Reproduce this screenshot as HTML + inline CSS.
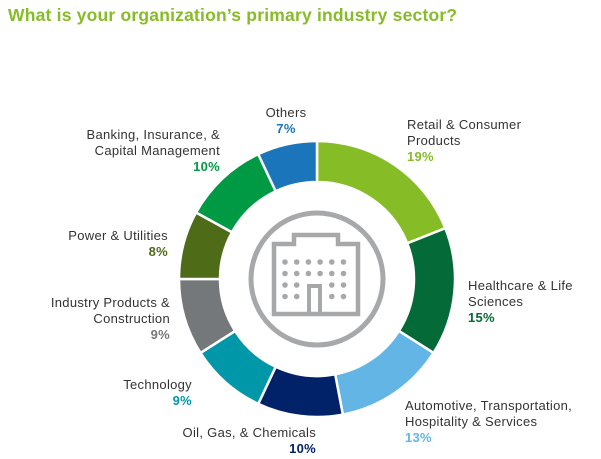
<!DOCTYPE html>
<html><head><meta charset="utf-8"><style>
body{margin:0;background:#fff;width:601px;height:459px;overflow:hidden;font-family:"Liberation Sans",sans-serif}
#t{position:absolute;left:8px;top:5px;font-size:17.5px;font-weight:bold;color:#86bc25;letter-spacing:0.2px}
.l{position:absolute;font-size:13px;color:#333;line-height:16px;letter-spacing:0.3px}
.l b{font-weight:bold}
</style></head><body>
<div id="t">What is your organization’s primary industry sector?</div>
<svg id="c" width="601" height="459" style="position:absolute;left:0;top:0"></svg>
<div class="l" style="left:256px;top:105px;text-align:center;width:60px">Others<br><b style="color:#1b75bb">7%</b></div>
<div class="l" style="left:407px;top:117px">Retail &amp; Consumer<br>Products<br><b style="color:#86bc25">19%</b></div>
<div class="l" style="left:40px;top:127px;text-align:right;width:180px">Banking, Insurance, &amp;<br>Capital Management<br><b style="color:#009a44">10%</b></div>
<div class="l" style="left:20px;top:228px;text-align:right;width:148px">Power &amp; Utilities<br><b style="color:#4e6b17">8%</b></div>
<div class="l" style="left:468px;top:278px">Healthcare &amp; Life<br>Sciences<br><b style="color:#046a38">15%</b></div>
<div class="l" style="left:10px;top:295px;text-align:right;width:160px">Industry Products &amp;<br>Construction<br><b style="color:#75787b">9%</b></div>
<div class="l" style="left:20px;top:377px;text-align:right;width:172px">Technology<br><b style="color:#0097a9">9%</b></div>
<div class="l" style="left:405px;top:398px">Automotive, Transportation,<br>Hospitality &amp; Services<br><b style="color:#62b5e5">13%</b></div>
<div class="l" style="left:160px;top:425px;text-align:right;width:156px">Oil, Gas, &amp; Chemicals<br><b style="color:#012169">10%</b></div>
<script>
const categories=["Retail & Consumer Products","Healthcare & Life Sciences","Automotive, Transportation, Hospitality & Services","Oil, Gas, & Chemicals","Technology","Industry Products & Construction","Power & Utilities","Banking, Insurance, & Capital Management","Others"];
const values=[19,15,13,10,9,9,8,10,7];
const colors=["#86bc25","#046a38","#62b5e5","#012169","#0097a9","#75787b","#4e6b17","#009a44","#1b75bb"];
const svg=document.getElementById('c');const NS="http://www.w3.org/2000/svg";
const cx=317,cy=279,R=138,r=97;
const total=values.reduce((a,b)=>a+b,0);
function pt(a,rad){return [cx+rad*Math.sin(a),cy-rad*Math.cos(a)];}
let acc=0;
values.forEach((v,i)=>{
 const a0=acc/total*2*Math.PI,a1=(acc+v)/total*2*Math.PI;acc+=v;
 const lg=(a1-a0)>Math.PI?1:0;
 const p0=pt(a0,R),p1=pt(a1,R),q1=pt(a1,r),q0=pt(a0,r);
 const p=document.createElementNS(NS,'path');
 p.setAttribute('d',`M${p0}A${R},${R} 0 ${lg} 1 ${p1}L${q1}A${r},${r} 0 ${lg} 0 ${q0}Z`);
 p.setAttribute('fill',colors[i]);p.setAttribute('stroke','#fff');p.setAttribute('stroke-width','2.5');
 
 
 svg.appendChild(p);
});
const g=document.createElementNS(NS,'g');


let h=`<circle cx="${cx}" cy="${cy}" r="66" fill="none" stroke="#a7a8aa" stroke-width="5"/>
<path d="M274,244 h20 v-9 h44 v9 h20 v70 h-84 z" fill="none" stroke="#a7a8aa" stroke-width="4.5"/>
<rect x="309" y="286" width="11" height="28" fill="none" stroke="#a7a8aa" stroke-width="4"/>`;
for(let row=0;row<4;row++)for(let col=0;col<6;col++){
 if(row>=2&&(col==2||col==3))continue;
 h+=`<circle cx="${285+col*11.7}" cy="${262+row*11.5}" r="2.8" fill="#a7a8aa"/>`;}
g.innerHTML=h;svg.appendChild(g);
</script>
</body></html>
